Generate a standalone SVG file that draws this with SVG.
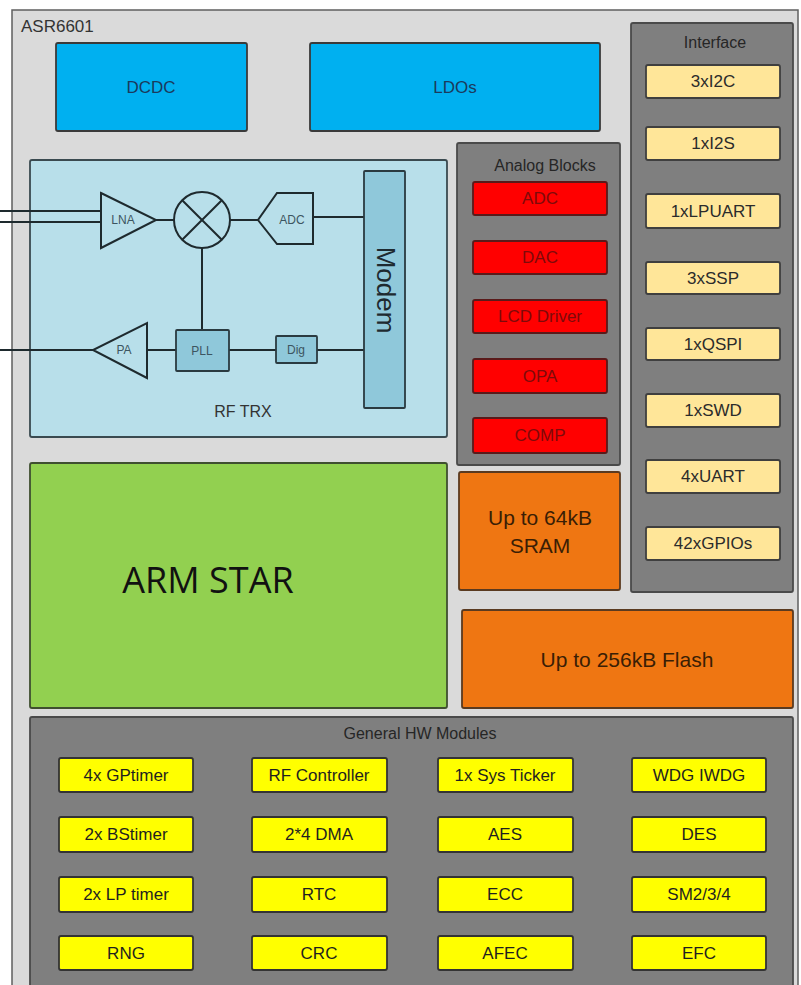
<svg xmlns="http://www.w3.org/2000/svg" width="801" height="985" viewBox="0 0 801 985">
<style>
text{font-family:"Liberation Sans",Arial,sans-serif;text-anchor:middle}
.box{stroke:#3a3a3a;stroke-width:1.8}
.blue{fill:#00B0F0}
.panel{fill:#7F7F7F;stroke:#4a4a4a;stroke-width:1.8}
.red{fill:#FF0000;stroke:#5a1a1a;stroke-width:1.8}
.beige{fill:#FFE699;stroke:#3f3f3f;stroke-width:1.8}
.yel{fill:#FFFF00;stroke:#333;stroke-width:1.8}
.org{fill:#EF7612;stroke:#5a3a20;stroke-width:1.8}
.rf{fill:none;stroke:#1e2a2e;stroke-width:2}
.rfbox{fill:#8FC8DA;stroke:#2a3a40;stroke-width:1.8}
.t-red{fill:#7E0A0A;font-size:17px}
.t-beige{fill:#2b2b2b;font-size:17px}
.t-yel{fill:#1f1f1f;font-size:17px}
.t-rf{fill:#3c5560;font-size:12px}
.title{fill:#262626;font-size:16px}
</style>
<rect x="0" y="0" width="801" height="985" fill="#ffffff"/>
<g id="asr6601">
<rect x="12" y="10" width="786" height="990" fill="#DADADA" stroke="#5f5f5f" stroke-width="1.5"/>
<text x="21" y="32" style="text-anchor:start;font-size:17px;fill:#333">ASR6601</text>
</g>
<g id="dcdc">
<rect x="56" y="43" width="191" height="88" rx="2" class="box blue"/>
<text x="151" y="93" style="font-size:17px;fill:#1B3A5C">DCDC</text>
</g>
<g id="ldos">
<rect x="310" y="43" width="290" height="88" rx="2" class="box blue"/>
<text x="455" y="93" style="font-size:17px;fill:#1B3A5C">LDOs</text>
</g>
<g id="rf-trx">
<rect x="30" y="160" width="417" height="277" rx="2" fill="#B8DFEA" stroke="#3a4a50" stroke-width="1.8"/>
<text x="243" y="417" style="font-size:16px;fill:#333">RF TRX</text>
</g>
<g id="connectors">
<line x1="0" y1="211" x2="101" y2="211" class="rf"/>
<line x1="0" y1="222" x2="101" y2="222" class="rf"/>
<line x1="156" y1="220" x2="174" y2="220" class="rf"/>
<line x1="230" y1="220" x2="258" y2="220" class="rf"/>
<line x1="313" y1="217" x2="364" y2="217" class="rf"/>
<line x1="202" y1="248" x2="202" y2="330" class="rf"/>
<line x1="0" y1="350" x2="93" y2="350" class="rf"/>
<line x1="147" y1="350" x2="176" y2="350" class="rf"/>
<line x1="229" y1="350" x2="276" y2="350" class="rf"/>
<line x1="317" y1="350" x2="364" y2="350" class="rf"/>
</g>
<g id="lna">
<polygon points="101,193 156,220 101,248" fill="#B8DFEA" class="rf"/>
<text x="123" y="224" class="t-rf">LNA</text>
</g>
<g id="mixer">
<circle cx="202" cy="220" r="28" fill="#B8DFEA" class="rf"/>
<line x1="182.2" y1="200.2" x2="221.8" y2="239.8" class="rf"/>
<line x1="221.8" y1="200.2" x2="182.2" y2="239.8" class="rf"/>
</g>
<g id="adc-rf">
<polygon points="277,193 313,193 313,244 277,244 258,220" fill="#B8DFEA" class="rf"/>
<text x="292" y="224" class="t-rf">ADC</text>
</g>
<g id="pa">
<polygon points="147,323 147,378 93,350" fill="#B8DFEA" class="rf"/>
<text x="124" y="354" class="t-rf">PA</text>
</g>
<g id="pll">
<rect x="176" y="330" width="53" height="41" rx="1" class="rfbox"/>
<text x="202" y="355" class="t-rf">PLL</text>
</g>
<g id="dig">
<rect x="276" y="336" width="41" height="27" rx="1" class="rfbox"/>
<text x="296" y="354" class="t-rf">Dig</text>
</g>
<g id="modem">
<rect x="364" y="171" width="41" height="237" rx="1" class="rfbox"/>
<text transform="translate(377,290) rotate(90)" style="font-size:26px;fill:#1e2a30">Modem</text>
</g>
<g id="analog-blocks">
<rect x="457" y="143" width="163" height="322" rx="2" class="panel"/>
<text x="545" y="171" class="title">Analog Blocks</text>
</g>
<g id="adc"><rect x="473" y="182" width="134" height="33" rx="2" class="red"/><text x="540" y="204" class="t-red">ADC</text></g>
<g id="dac"><rect x="473" y="241" width="134" height="33" rx="2" class="red"/><text x="540" y="263" class="t-red">DAC</text></g>
<g id="lcd"><rect x="473" y="300" width="134" height="33" rx="2" class="red"/><text x="540" y="322" class="t-red">LCD Driver</text></g>
<g id="opa"><rect x="473" y="359" width="134" height="34" rx="2" class="red"/><text x="540" y="382" class="t-red">OPA</text></g>
<g id="comp"><rect x="473" y="418" width="134" height="35" rx="2" class="red"/><text x="540" y="441" class="t-red">COMP</text></g>
<g id="interface">
<rect x="631" y="23" width="162" height="569" rx="2" class="panel"/>
<text x="715" y="48" class="title">Interface</text>
</g>
<g id="i2c"><rect x="646" y="65" width="134" height="33" rx="2" class="beige"/><text x="713" y="87" class="t-beige">3xI2C</text></g>
<g id="i2s"><rect x="646" y="127" width="134" height="33" rx="2" class="beige"/><text x="713" y="149" class="t-beige">1xI2S</text></g>
<g id="lpuart"><rect x="646" y="194" width="134" height="34" rx="2" class="beige"/><text x="713" y="217" class="t-beige">1xLPUART</text></g>
<g id="ssp"><rect x="646" y="262" width="134" height="32" rx="2" class="beige"/><text x="713" y="284" class="t-beige">3xSSP</text></g>
<g id="qspi"><rect x="646" y="328" width="134" height="32" rx="2" class="beige"/><text x="713" y="350" class="t-beige">1xQSPI</text></g>
<g id="swd"><rect x="646" y="394" width="134" height="33" rx="2" class="beige"/><text x="713" y="416" class="t-beige">1xSWD</text></g>
<g id="uart"><rect x="646" y="460" width="134" height="33" rx="2" class="beige"/><text x="713" y="482" class="t-beige">4xUART</text></g>
<g id="gpios"><rect x="646" y="527" width="134" height="33" rx="2" class="beige"/><text x="713" y="549" class="t-beige">42xGPIOs</text></g>
<g id="arm-star">
<rect x="30" y="463" width="417" height="245" rx="2" fill="#92D050" stroke="#3f4f30" stroke-width="1.8"/>
<text x="208" y="593" style="font-family:'Open Sans','Noto Sans',sans-serif;font-size:36px;fill:#111">ARM STAR</text>
</g>
<g id="sram">
<rect x="459" y="472" width="161" height="118" rx="2" class="org"/>
<text x="540" y="525" style="font-size:21px;fill:#3a1e05">Up to 64kB</text>
<text x="540" y="553" style="font-size:21px;fill:#3a1e05">SRAM</text>
</g>
<g id="flash">
<rect x="462" y="610" width="331" height="98" rx="2" class="org"/>
<text x="627" y="667" style="font-size:21px;fill:#3a1e05">Up to 256kB Flash</text>
</g>
<g id="general-hw">
<rect x="30" y="717" width="763" height="290" rx="2" class="panel"/>
<text x="420" y="739" class="title">General HW Modules</text>
</g>
<g id="gptimer"><rect x="59" y="758" width="134" height="34" rx="2" class="yel"/><text x="126" y="781" class="t-yel">4x GPtimer</text></g>
<g id="rfctrl"><rect x="252" y="758" width="135" height="34" rx="2" class="yel"/><text x="319" y="781" class="t-yel">RF Controller</text></g>
<g id="systicker"><rect x="438" y="758" width="135" height="34" rx="2" class="yel"/><text x="505" y="781" class="t-yel">1x Sys Ticker</text></g>
<g id="wdg"><rect x="632" y="758" width="134" height="34" rx="2" class="yel"/><text x="699" y="781" class="t-yel">WDG IWDG</text></g>
<g id="bstimer"><rect x="59" y="817" width="134" height="35" rx="2" class="yel"/><text x="126" y="840" class="t-yel">2x BStimer</text></g>
<g id="dma"><rect x="252" y="817" width="135" height="35" rx="2" class="yel"/><text x="319" y="840" class="t-yel">2*4 DMA</text></g>
<g id="aes"><rect x="438" y="817" width="135" height="35" rx="2" class="yel"/><text x="505" y="840" class="t-yel">AES</text></g>
<g id="des"><rect x="632" y="817" width="134" height="35" rx="2" class="yel"/><text x="699" y="840" class="t-yel">DES</text></g>
<g id="lptimer"><rect x="59" y="877" width="134" height="35" rx="2" class="yel"/><text x="126" y="900" class="t-yel">2x LP timer</text></g>
<g id="rtc"><rect x="252" y="877" width="135" height="35" rx="2" class="yel"/><text x="319" y="900" class="t-yel">RTC</text></g>
<g id="ecc"><rect x="438" y="877" width="135" height="35" rx="2" class="yel"/><text x="505" y="900" class="t-yel">ECC</text></g>
<g id="sm"><rect x="632" y="877" width="134" height="35" rx="2" class="yel"/><text x="699" y="900" class="t-yel">SM2/3/4</text></g>
<g id="rng"><rect x="59" y="936" width="134" height="34" rx="2" class="yel"/><text x="126" y="959" class="t-yel">RNG</text></g>
<g id="crc"><rect x="252" y="936" width="135" height="34" rx="2" class="yel"/><text x="319" y="959" class="t-yel">CRC</text></g>
<g id="afec"><rect x="438" y="936" width="135" height="34" rx="2" class="yel"/><text x="505" y="959" class="t-yel">AFEC</text></g>
<g id="efc"><rect x="632" y="936" width="134" height="34" rx="2" class="yel"/><text x="699" y="959" class="t-yel">EFC</text></g>
</svg>
